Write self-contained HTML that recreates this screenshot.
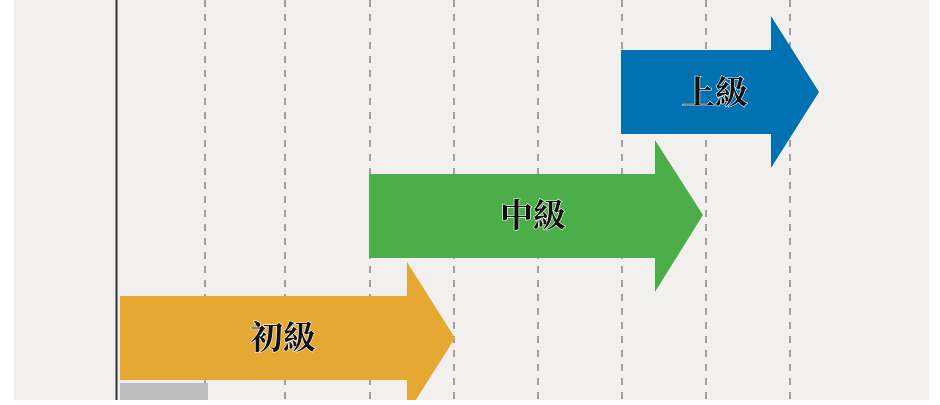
<!DOCTYPE html>
<html><head><meta charset="utf-8"><style>
html,body{margin:0;padding:0;background:#fff;}
</style></head><body>
<svg width="940" height="400" xmlns="http://www.w3.org/2000/svg">
<rect x="14" y="0" width="915" height="400" fill="#f1f0ef"/>
<g stroke="#777" stroke-width="1.3" stroke-dasharray="7,7">
<line x1="205" y1="0" x2="205" y2="400"/>
<line x1="285" y1="0" x2="285" y2="400"/>
<line x1="370" y1="0" x2="370" y2="400"/>
<line x1="454" y1="0" x2="454" y2="400"/>
<line x1="538" y1="0" x2="538" y2="400"/>
<line x1="622" y1="0" x2="622" y2="400"/>
<line x1="706" y1="0" x2="706" y2="400"/>
<line x1="790" y1="0" x2="790" y2="400"/>
</g>
<line x1="116.5" y1="0" x2="116.5" y2="400" stroke="#333" stroke-width="2"/>
<polygon points="621,50 771,50 771,16 819,92 771,168 771,134 621,134" fill="#0072b2"/>
<polygon points="369,174 655,174 655,140 703,215 655,292 655,258 369,258" fill="#4cae48"/>
<polygon points="120,296 407,296 407,262 455,338 407,414 407,380 120,380" fill="#e6a833"/>
<rect x="120" y="383" width="88" height="17" fill="#bdbdbd"/>
<g font-family="'Noto Serif CJK SC',serif" font-size="33" font-weight="700" fill="#111" stroke="#fff" stroke-width="1.2" paint-order="stroke" text-anchor="middle">
<text x="715" y="104">上級</text>
<text x="533" y="227">中級</text>
<text x="283" y="349">初級</text>
</g>
</svg>
</body></html>
